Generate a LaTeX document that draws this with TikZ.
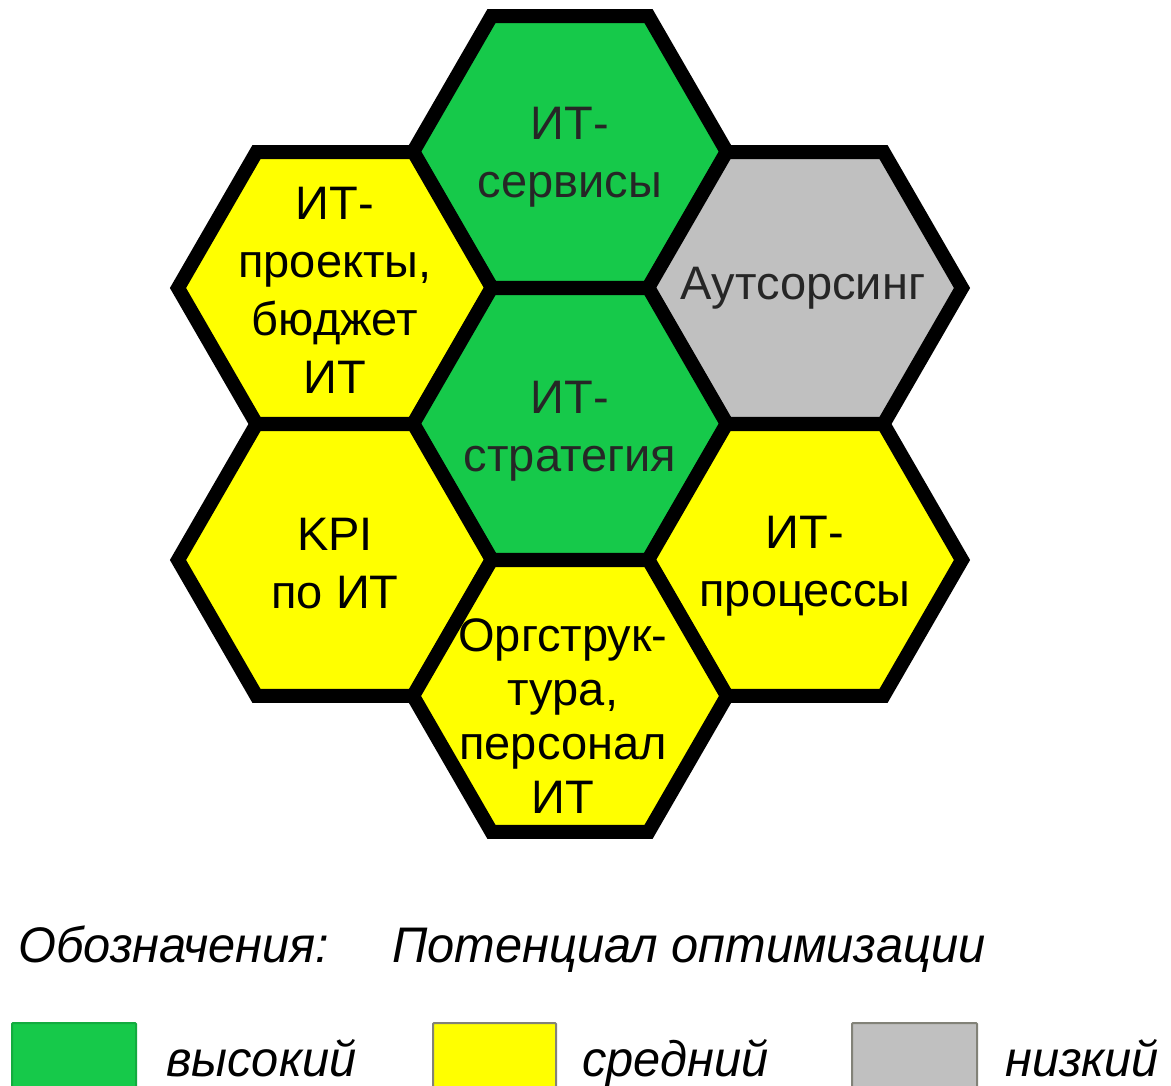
\documentclass[tikz,border=0pt]{standalone}
\usepackage{fontspec}
\setmainfont{Liberation Sans}
\newfontfamily\legendfont[FakeStretch=0.975]{Liberation Sans}
\definecolor{hexgreen}{RGB}{22,201,74}
\definecolor{hexyellow}{RGB}{255,255,0}
\definecolor{hexgray}{RGB}{192,192,192}
\definecolor{boxedge}{RGB}{130,130,120}
\tikzset{
  hexline/.style={draw=black, line width=14pt, line join=miter},
  hexlabel/.style={align=center, font=\fontsize{47}{58}\selectfont, text=black, inner sep=0pt},
  softlabel/.style={hexlabel, text=black!85},
  denselabel/.style={hexlabel, font=\fontsize{47}{54}\selectfont},
  legendtext/.style={anchor=base west, inner sep=0pt, font=\legendfont\itshape\fontsize{50}{54}\selectfont},
  legendbox/.style={line width=2pt, rounded corners=1pt}
}
% flat-topped hexagon around a centre, circumradius 157
\newcommand\honeycell[3]{%
  \filldraw[hexline, fill=#3, shift={(#1,#2)}]
    (0:157) -- (60:157) -- (120:157) -- (180:157) -- (240:157) -- (300:157) -- cycle;}
\begin{document}
\begin{tikzpicture}[x=1pt, y=-1pt]
  \useasboundingbox (0,0) rectangle (1171,1086);
  \fill[white] (0,0) rectangle (1171,1086);

  % honeycomb
  \honeycell{570}{152}{hexgreen}
  \honeycell{335}{288}{hexyellow}
  \honeycell{805}{288}{hexgray}
  \honeycell{570}{424}{hexgreen}
  \honeycell{335}{560}{hexyellow}
  \honeycell{805}{560}{hexyellow}
  \honeycell{570}{696}{hexyellow}

  % cell labels
  \node[softlabel] (services) at (570,157) {ИТ-\\сервисы};
  \node[hexlabel] (projects) at (335,290) {ИТ-\\проекты,\\бюджет\\ИТ};
  \node[softlabel] (outsourcing) at (803,288) {Аутсорсинг};
  \node[softlabel] (strategy) at (570,431) {ИТ-\\стратегия};
  \node[hexlabel] (kpi) at (335,564) {KPI\\по ИТ};
  \node[hexlabel] (processes) at (805,566) {ИТ-\\процессы};
  \node[denselabel] (orgstructure) at (563,716) {Оргструк-\\тура,\\персонал\\ИТ};

  % legend
  \node[legendtext] (legendtitle) at (18,962) {Обозначения:};
  \node[legendtext] (legendcaption) at (392,962) {Потенциал оптимизации};

  \filldraw[legendbox, fill=hexgreen, draw=hexgreen!85!black] (12,1023) rectangle (136,1100);
  \node[legendtext] (high) at (166,1076) {высокий};
  \filldraw[legendbox, fill=hexyellow, draw=boxedge] (433,1023) rectangle (556,1100);
  \node[legendtext] (medium) at (582,1076) {средний};
  \filldraw[legendbox, fill=hexgray, draw=boxedge] (852,1023) rectangle (977,1100);
  \node[legendtext] (low) at (1005,1076) {низкий};
\end{tikzpicture}
\end{document}
